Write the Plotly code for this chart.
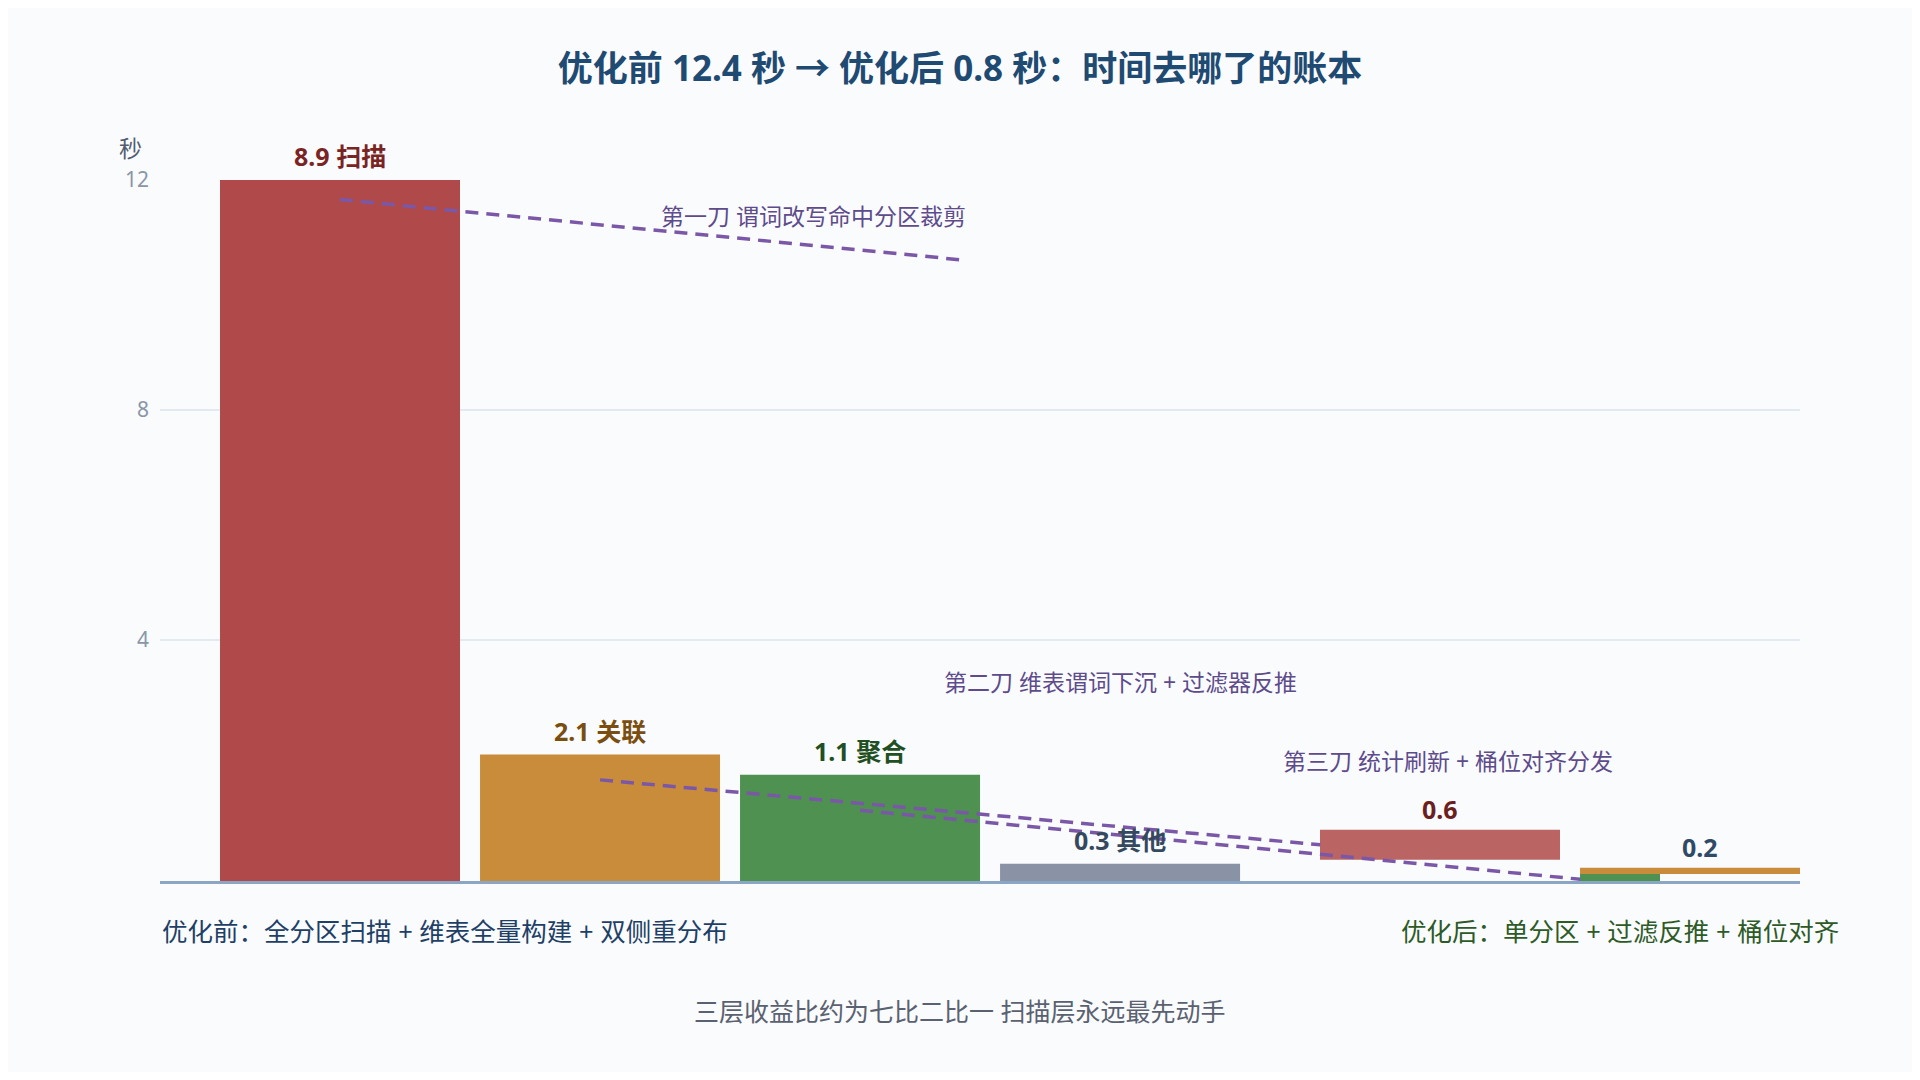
import plotly.graph_objects as go

# 优化前：四个阶段（标签里的秒数 + 图上读出的柱顶）
before_names = ["扫描", "关联", "聚合", "其他"]
before_labels = ["8.9 扫描", "2.1 关联", "1.1 聚合", "0.3 其他"]
before_top = [12.4, 2.0, 1.65, 0.1]

# 优化后：扫描块 + 其余（关联、聚合）
after_names = ["优化后扫描", "优化后其余"]
after_labels = ["0.6", "0.2"]
after_base = [0.17, -0.08]
after_top = [0.69, 0.03]
agg_after_base = [-0.2]
agg_after_top = [-0.08]

# 三刀：说明文字 + 虚线起止点（类目序号, 秒）
cut_texts = ["第一刀 谓词改写命中分区裁剪",
             "第二刀 维表谓词下沉 + 过滤器反推",
             "第三刀 统计刷新 + 桶位对齐分发"]
cut_x0 = [0, 1, 2]
cut_y0 = [11.66, 1.56, 1.03]
cut_x1 = [2.39, 3.77, 4.77]
cut_y1 = [10.61, 0.43, -0.17]
cut_text_x = [1.82, 3.0, 4.26]
cut_text_y = [11.38, 3.26, 1.88]

y_ticks = [4, 8, 12]

title_text = "优化前 12.4 秒 → 优化后 0.8 秒：时间去哪了的账本"
before_note = "优化前：全分区扫描 + 维表全量构建 + 双侧重分布"
after_note = "优化后：单分区 + 过滤反推 + 桶位对齐"
caption = "三层收益比约为七比二比一 扫描层永远最先动手"

FONT = "Noto Sans, Noto Sans CJK SC, sans-serif"
Y_MIN, Y_MAX = -0.2, 12
BAR_W = 0.923
AFTER_OFF = -0.231  # 优化后柱子右移一点

before_colors = ["#b04a4a", "#c98c3b", "#4e9150", "#8a93a6"]
before_text_colors = ["#7a2424", "#7a4e10", "#1f4f22", "#34495e"]
after_colors = ["#ba6463", "#c98c3b"]
after_text_colors = ["#6b2020", "#2f4a66"]
cut_color = "#7b57a8"

fig = go.Figure()

fig.add_trace(go.Bar(x=before_names,
                     y=[t - Y_MIN for t in before_top],
                     base=Y_MIN,
                     width=BAR_W,
                     marker_color=before_colors,
                     marker_line_width=0,
                     hoverinfo="skip"))

fig.add_trace(go.Bar(x=after_names,
                     y=[t - b for t, b in zip(after_top, after_base)],
                     base=after_base,
                     width=BAR_W,
                     offset=AFTER_OFF,
                     marker_color=after_colors,
                     marker_line_width=0,
                     cliponaxis=False,
                     hoverinfo="skip"))

fig.add_trace(go.Bar(x=after_names[1:],
                     y=[t - b for t, b in zip(agg_after_top, agg_after_base)],
                     base=agg_after_base,
                     width=BAR_W / 3,
                     offset=AFTER_OFF,
                     marker_color="#4e9150",
                     marker_line_width=0,
                     cliponaxis=False,
                     hoverinfo="skip"))

annotations = []

# 柱顶标签
for i, (txt, top) in enumerate(zip(before_labels, before_top)):
    annotations.append(dict(x=i, y=min(top, Y_MAX), xref="x", yref="y",
                            text=txt, showarrow=False, yshift=24,
                            font=dict(size=25, color=before_text_colors[i],
                                      family=FONT, weight="bold")))
shift = AFTER_OFF + BAR_W / 2
for j, (txt, top) in enumerate(zip(after_labels, after_top)):
    annotations.append(dict(x=len(before_names) + j + shift, y=top,
                            xref="x", yref="y", text=txt, showarrow=False,
                            yshift=21,
                            font=dict(size=25, color=after_text_colors[j],
                                      family=FONT, weight="bold")))

# 三刀说明
for txt, cx, cy in zip(cut_texts, cut_text_x, cut_text_y):
    annotations.append(dict(x=cx, y=cy, xref="x", yref="y", text=txt,
                            showarrow=False,
                            font=dict(size=23, color="#5e4b8b", family=FONT)))

# 轴标题 / 底部注释
annotations += [
    dict(x=-0.0177, y=1.046, xref="paper", yref="paper", text="秒",
         xanchor="center", yanchor="middle", showarrow=False,
         font=dict(size=23, color="#525c70", family=FONT)),
    dict(x=0, y=-0.0713, xref="paper", yref="paper", text=before_note,
         xanchor="left", yanchor="middle", showarrow=False,
         font=dict(size=25.5, color="#1f3f66", family=FONT)),
    dict(x=1.025, y=-0.0713, xref="paper", yref="paper", text=after_note,
         xanchor="right", yanchor="middle", showarrow=False,
         font=dict(size=25.5, color="#2d5a27", family=FONT)),
    dict(x=0.4878, y=-0.1855, xref="paper", yref="paper", text=caption,
         xanchor="center", yanchor="middle", showarrow=False,
         font=dict(size=25, color="#5a6170", family=FONT)),
]

shapes = [dict(type="line", xref="x", yref="y", x0=a, y0=b, x1=c, y1=d,
               layer="above",
               line=dict(color=cut_color, width=3.5, dash="13px,8px"))
          for a, b, c, d in zip(cut_x0, cut_y0, cut_x1, cut_y1)]

# 页面 body 自带 8px 边距，画布取 1904x1064 刚好铺满窗口
fig.update_layout(width=1904, height=1064,
                  margin=dict(l=152, r=112, t=172, b=191),
                  paper_bgcolor="#f9fbfd",
                  plot_bgcolor="#f9fbfd",
                  barmode="overlay",
                  showlegend=False,
                  font=dict(family=FONT),
                  title=dict(text=title_text, x=0.5, xanchor="center",
                             y=0.943, yanchor="middle",
                             font=dict(size=35, color="#1f4a72",
                                       family=FONT, weight="bold")),
                  annotations=annotations,
                  shapes=shapes)

fig.update_xaxes(type="category",
                 categoryorder="array",
                 categoryarray=before_names + after_names,
                 range=[-0.6923, 5.615],
                 showticklabels=False,
                 showgrid=False,
                 zeroline=False,
                 showline=True, linecolor="#8ba5c4", linewidth=3)

fig.update_yaxes(range=[Y_MIN, Y_MAX],
                 tickvals=y_ticks,
                 showgrid=True, gridcolor="#e3e9f0", gridwidth=1.5,
                 zeroline=False,
                 showline=False,
                 ticklabelstandoff=10,
                 tickfont=dict(size=21, color="#8a96a8", family=FONT))

fig.write_html("out.html")
